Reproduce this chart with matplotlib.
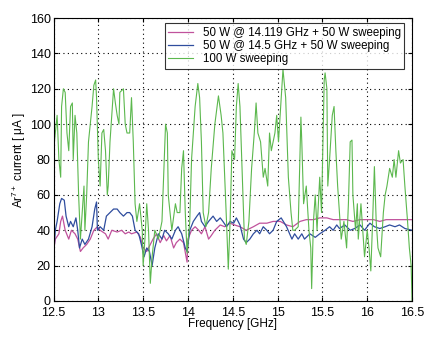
import matplotlib.pyplot as plt

plt.rcParams['font.family'] = ['Liberation Sans', 'DejaVu Sans']
plt.rcParams['mathtext.fontset'] = 'custom'
plt.rcParams['mathtext.rm'] = 'Liberation Sans'
plt.rcParams['mathtext.it'] = 'Liberation Sans'

# 100 W sweeping
f_green = [12.50, 12.51, 12.52, 12.54, 12.56, 12.58, 12.59, 12.61, 12.63, 12.65, 12.67, 12.69,
           12.71, 12.72, 12.74, 12.76, 12.78, 12.80, 12.82, 12.84, 12.85, 12.87, 12.89, 12.91,
           12.93, 12.95, 12.97, 12.98, 13.00, 13.02, 13.04, 13.06, 13.08, 13.10, 13.11, 13.13,
           13.15, 13.17, 13.19, 13.21, 13.23, 13.24, 13.28, 13.30, 13.32, 13.35, 13.37, 13.39,
           13.41, 13.43, 13.46, 13.49, 13.50, 13.52, 13.54, 13.56, 13.58, 13.60, 13.63, 13.67,
           13.71, 13.75, 13.77, 13.78, 13.82, 13.86, 13.88, 13.91, 13.93, 13.95, 13.97, 13.99,
           14.02, 14.04, 14.06, 14.08, 14.11, 14.13, 14.15, 14.17, 14.20, 14.23, 14.26, 14.30,
           14.34, 14.37, 14.39, 14.41, 14.43, 14.45, 14.47, 14.49, 14.52, 14.54, 14.56, 14.58,
           14.60, 14.62, 14.63, 14.65, 14.68, 14.71, 14.74, 14.76, 14.78, 14.81, 14.84, 14.86,
           14.89, 14.91, 14.93, 14.97, 14.99, 15.01, 15.04, 15.06, 15.09, 15.12, 15.15, 15.17,
           15.19, 15.23, 15.26, 15.27, 15.29, 15.32, 15.35, 15.37, 15.38, 15.40, 15.42, 15.44,
           15.47, 15.49, 15.52, 15.53, 15.55, 15.56, 15.58, 15.61, 15.63, 15.65, 15.67, 15.69,
           15.71, 15.74, 15.77, 15.79, 15.81, 15.83, 15.84, 15.87, 15.89, 15.90, 15.93, 15.95,
           15.97, 16.00, 16.02, 16.04, 16.06, 16.08, 16.10, 16.12, 16.15, 16.18, 16.20, 16.22,
           16.25, 16.28, 16.30, 16.32, 16.35, 16.37, 16.40, 16.42, 16.45, 16.47, 16.49, 16.50]
i_green = [60, 90, 95, 105, 80, 70, 110, 120, 118, 95, 85, 110,
           112, 80, 105, 95, 60, 35, 50, 65, 40, 60, 90, 100,
           110, 122, 125, 115, 80, 65, 95, 97, 85, 60, 65, 90,
           105, 120, 112, 105, 100, 118, 120, 100, 95, 95, 115, 90,
           55, 45, 55, 40, 20, 35, 55, 40, 10, 25, 40, 35,
           45, 100, 95, 60, 40, 55, 50, 50, 75, 85, 50, 27,
           45, 80, 95, 110, 123, 115, 90, 50, 42, 50, 75, 100,
           116, 105, 95, 70, 45, 18, 45, 85, 80, 110, 123, 110,
           80, 50, 35, 32, 45, 75, 95, 112, 95, 90, 70, 75,
           65, 95, 85, 95, 105, 90, 115, 131, 115, 70, 50, 40,
           40, 42, 104, 90, 55, 65, 40, 30, 7, 45, 60, 40,
           70, 50, 125, 129, 120, 65, 80, 105, 110, 85, 65, 50,
           35, 45, 30, 55, 90, 91, 60, 40, 55, 35, 55, 40,
           25, 40, 30, 17, 45, 76, 45, 30, 25, 50, 60, 65,
           75, 70, 80, 70, 85, 78, 80, 65, 45, 30, 20, 0]

# 50 W @ 14.119 GHz + 50 W sweeping
f_pink = [12.50, 12.52, 12.56, 12.58, 12.60, 12.63, 12.67, 12.70, 12.74, 12.77, 12.80, 12.83,
          12.87, 12.91, 12.95, 12.99, 13.02, 13.08, 13.11, 13.15, 13.21, 13.26, 13.30, 13.34,
          13.37, 13.43, 13.47, 13.50, 13.54, 13.58, 13.61, 13.65, 13.69, 13.73, 13.76, 13.80,
          13.84, 13.87, 13.91, 13.95, 13.99, 14.00, 14.04, 14.08, 14.12, 14.15, 14.19, 14.23,
          14.26, 14.30, 14.36, 14.41, 14.47, 14.52, 14.58, 14.65, 14.73, 14.80, 14.88, 14.95,
          15.03, 15.10, 15.17, 15.25, 15.32, 15.40, 15.47, 15.55, 15.62, 15.69, 15.77, 15.84,
          15.92, 15.99, 16.07, 16.14, 16.21, 16.29, 16.36, 16.50]
i_pink = [28, 35, 38, 45, 48, 40, 35, 40, 38, 35, 28, 30,
          32, 35, 40, 42, 40, 38, 35, 40, 39, 40, 38, 39,
          38, 39, 36, 30, 28, 32, 35, 38, 33, 37, 34, 37,
          30, 33, 35, 33, 22, 35, 40, 42, 40, 38, 42, 35,
          37, 40, 43, 42, 44, 43, 42, 40, 42, 44, 44, 45,
          45, 43, 42, 45, 46, 46, 47, 47, 46, 46, 46, 45,
          46, 46, 46, 45, 46, 46, 46, 46]

# 50 W @ 14.5 GHz + 50 W sweeping
f_blue = [12.50, 12.52, 12.54, 12.57, 12.59, 12.62, 12.64, 12.67, 12.69, 12.72, 12.75, 12.77,
          12.79, 12.82, 12.85, 12.89, 12.93, 12.96, 12.98, 12.99, 13.02, 13.06, 13.09, 13.13,
          13.17, 13.21, 13.24, 13.28, 13.32, 13.35, 13.38, 13.41, 13.45, 13.48, 13.51, 13.54,
          13.57, 13.60, 13.63, 13.67, 13.71, 13.74, 13.78, 13.82, 13.86, 13.89, 13.93, 13.97,
          13.99, 14.02, 14.06, 14.10, 14.13, 14.15, 14.19, 14.23, 14.28, 14.32, 14.36, 14.39,
          14.43, 14.47, 14.51, 14.54, 14.58, 14.62, 14.65, 14.69, 14.73, 14.77, 14.80, 14.84,
          14.88, 14.91, 14.95, 14.99, 15.04, 15.10, 15.16, 15.19, 15.23, 15.27, 15.30, 15.36,
          15.42, 15.47, 15.53, 15.58, 15.62, 15.66, 15.69, 15.75, 15.81, 15.86, 15.92, 15.97,
          16.03, 16.08, 16.14, 16.20, 16.25, 16.31, 16.36, 16.42, 16.50]
i_blue = [25, 40, 45, 55, 58, 57, 48, 42, 45, 42, 47, 40,
          30, 35, 32, 35, 42, 52, 56, 40, 42, 40, 48, 50,
          52, 52, 50, 48, 50, 50, 48, 40, 38, 32, 25, 30,
          28, 20, 30, 38, 35, 40, 38, 35, 40, 42, 38, 30,
          28, 40, 45, 48, 50, 45, 42, 45, 48, 45, 47, 45,
          42, 45, 44, 47, 43, 35, 33, 35, 38, 40, 38, 42,
          40, 38, 40, 45, 47, 42, 35, 38, 35, 38, 35, 38,
          36, 38, 40, 42, 40, 43, 41, 43, 40, 41, 43, 40,
          44, 42, 41, 42, 43, 42, 43, 41, 40]

fig = plt.figure(figsize=(4.33, 3.38), dpi=100)
ax = fig.add_axes([0.1236, 0.1095, 0.828, 0.837])

ax.plot(f_pink, i_pink, color='#c0529c', lw=0.9, label='50 W @ 14.119 GHz + 50 W sweeping')
ax.plot(f_blue, i_blue, color='#2f4d9e', lw=0.9, label='50 W @ 14.5 GHz + 50 W sweeping')
ax.plot(f_green, i_green, color='#5cb84e', lw=0.8, label='100 W sweeping')

ax.set_xlim(12.5, 16.5)
ax.set_ylim(0, 160)
ax.set_xticks([12.5, 13, 13.5, 14, 14.5, 15, 15.5, 16, 16.5])
ax.set_xticklabels(['12.5', '13', '13.5', '14', '14.5', '15', '15.5', '16', '16.5'])
ax.set_yticks(range(0, 161, 20))
ax.tick_params(direction='in', top=True, right=True, length=3, labelsize=9)
ax.tick_params(axis='x', pad=4.5)
ax.tick_params(axis='y', pad=2)
ax.grid(True, color='black', linestyle=(0, (1, 3)), linewidth=0.8)
ax.set_xlabel('Frequency [GHz]', fontsize=8.5, labelpad=-1)
ax.set_ylabel('Ar$^{7+}$ current [ μA ]', fontsize=8.5, labelpad=1)
for s in ax.spines.values():
    s.set_linewidth(0.8)

leg = ax.legend(loc='upper right', bbox_to_anchor=(0.978, 0.982), fontsize=8.3, frameon=True,
                fancybox=False, handlelength=2.2, handletextpad=0.8, borderpad=0.3,
                labelspacing=0.12, borderaxespad=0)
leg.get_frame().set_edgecolor('black')
leg.get_frame().set_linewidth(0.8)

fig.savefig('out.png', dpi=100)
